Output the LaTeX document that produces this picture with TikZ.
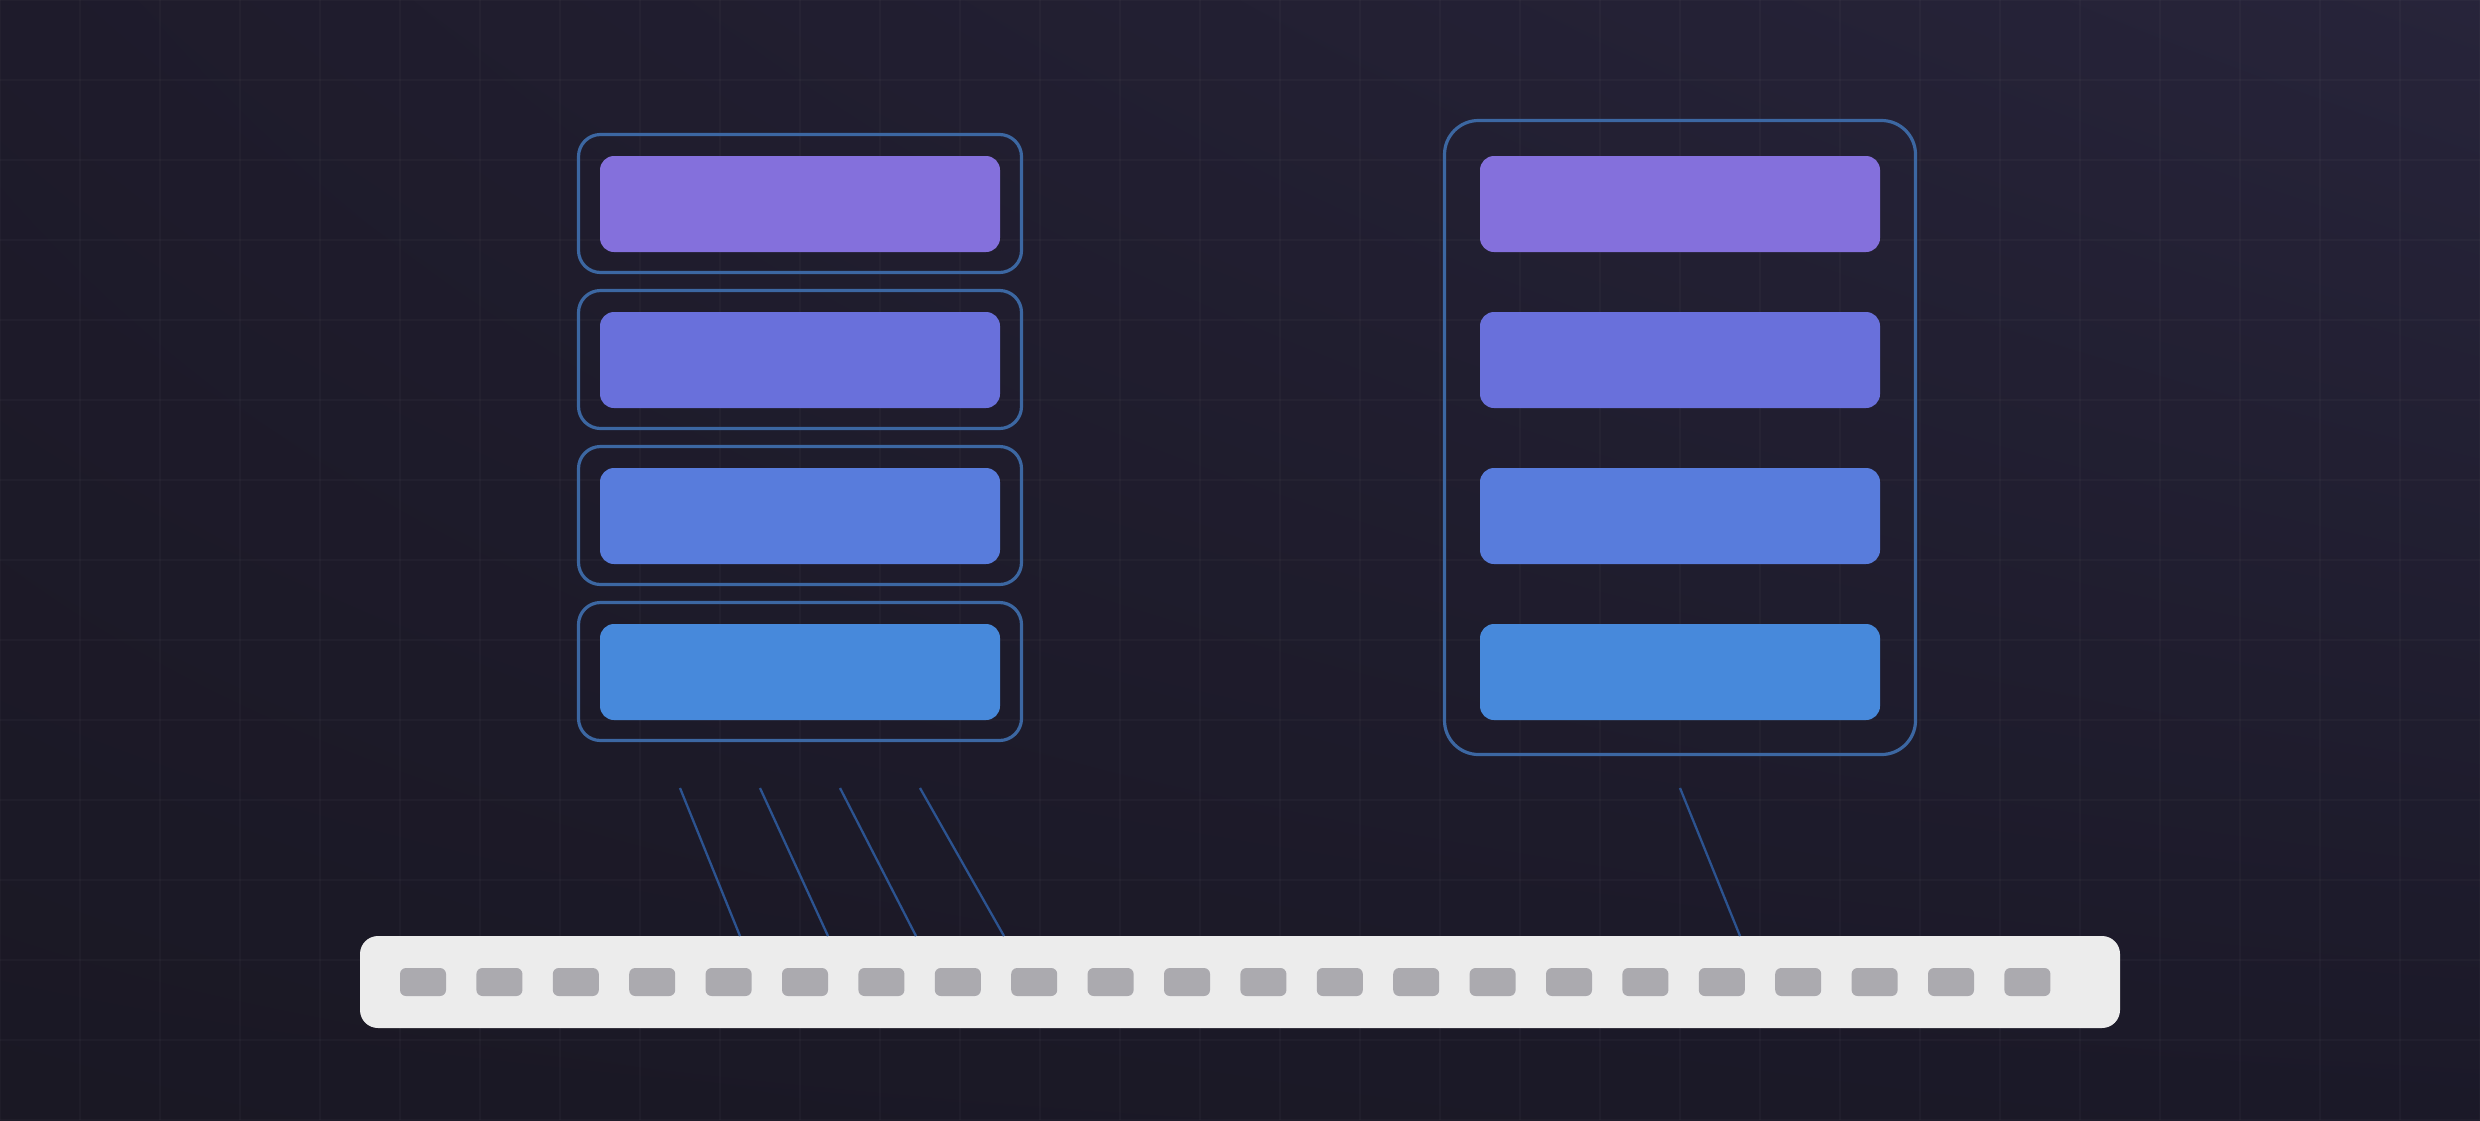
\documentclass[tikz,border=0pt]{standalone}
\usetikzlibrary{backgrounds,shadings}
\definecolor{bgUL}{HTML}{1E1B2B}
\definecolor{bgUR}{HTML}{27243A}
\definecolor{bgLL}{HTML}{1A1824}
\definecolor{bgLR}{HTML}{1B1928}
\definecolor{frameblue}{HTML}{3C67A2}
\definecolor{linkblue}{HTML}{2C5390}
\definecolor{barA}{HTML}{8470DC}
\definecolor{barB}{HTML}{6970DB}
\definecolor{barC}{HTML}{587CDC}
\definecolor{barD}{HTML}{4789DB}
\definecolor{stripgray}{HTML}{ECECEC}
\definecolor{slotgray}{HTML}{ABAAAF}
\tikzset{
  smallframe/.style={draw=frameblue, line width=3.2pt, rounded corners=22pt,
    minimum width=443pt, minimum height=138pt, inner sep=0pt},
  bigframe/.style={draw=frameblue, line width=3.2pt, rounded corners=34pt,
    minimum width=471pt, minimum height=634pt, inner sep=0pt},
  bar/.style={rounded corners=14pt, minimum width=400pt, minimum height=96pt, inner sep=0pt},
  strip/.style={fill=stripgray, rounded corners=18pt, minimum width=1760pt,
    minimum height=92pt, inner sep=0pt},
  slot/.style={fill=slotgray, rounded corners=6pt, minimum width=46pt,
    minimum height=28pt, inner sep=0pt},
  link/.style={draw=linkblue, line width=2.3pt}
}
\begin{document}
\begin{tikzpicture}[x=1pt, y=-1pt]
  % background
  \shade[upper left=bgUL, upper right=bgUR, lower left=bgLL, lower right=bgLR]
    (0,0) rectangle (2480,1120);
  \useasboundingbox (0,0) rectangle (2480,1120);
  \foreach \gx in {0,80,...,2480}
    \draw[white, opacity=0.025, line width=2pt] (\gx,0) -- (\gx,1120);
  \foreach \gy in {0,80,...,1120}
    \draw[white, opacity=0.025, line width=2pt] (0,\gy) -- (2480,\gy);

  % left column: individually framed bars
  \foreach \i/\c [count=\k] in {0/barA,1/barB,2/barC,3/barD}{
    \node[smallframe] (lf\k) at (800,{203.5+156*\i}) {};
    \node[bar, fill=\c] (lb\k) at (800,{204+156*\i}) {};
  }

  % right column: one frame around all bars
  \node[bigframe] (rf) at (1680,437.5) {};
  \foreach \i/\c [count=\k] in {0/barA,1/barB,2/barC,3/barD}{
    \node[bar, fill=\c] (rb\k) at (1680,{204+156*\i}) {};
  }

  % bottom strip with slots
  \node[strip] (strip) at (1240,982) {};
  \foreach \j in {0,...,21}{
    \node[slot] (s\j) at ({423+76.4*\j},982) {};
  }

  % connectors
  \coordinate (t1) at (680,788);  \coordinate (b1) at (740,936);
  \coordinate (t2) at (760,788);  \coordinate (b2) at (828,936);
  \coordinate (t3) at (840,788);  \coordinate (b3) at (916,936);
  \coordinate (t4) at (920,788);  \coordinate (b4) at (1004,936);
  \coordinate (t5) at (1680,788); \coordinate (b5) at (1740,936);
  \foreach \n in {1,...,5}
    \draw[link] (t\n) -- (b\n);
\end{tikzpicture}
\end{document}
